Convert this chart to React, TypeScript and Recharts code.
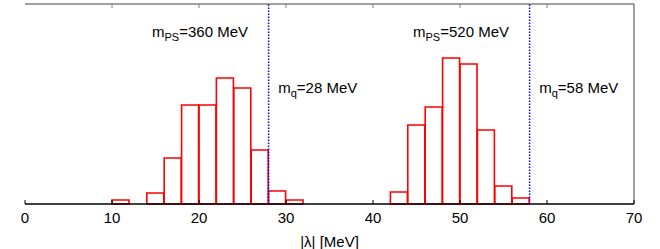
import React from 'react';
import {
    BarChart,
    Bar,
    XAxis,
    YAxis,
    ReferenceLine,
    ReferenceDot
} from 'recharts';

// histogram bins (bin centre in MeV, width 2) and their heights
const light360Centers = [11, 15, 17, 19, 21, 23, 25, 27, 29, 31];
const light360Heights = [4, 11, 46, 99, 99, 126, 116, 54, 13, 4];
const heavy520Centers = [43, 45, 47, 49, 51, 53, 55, 57];
const heavy520Heights = [12, 79, 97, 146, 140, 74, 18, 6];

const xTicks = [0, 10, 20, 30, 40, 50, 60, 70];
const cutoffs = [28, 58];
const X_MAX = 70;
const Y_MAX = 200;

const FONT = '"Liberation Sans", Arial, Helvetica, sans-serif';

const bins = [
    ...light360Centers.map((c, i) => ({ lambda: c, count: light360Heights[i] })),
    ...heavy520Centers.map((c, i) => ({ lambda: c, count: heavy520Heights[i] }))
];

type Note = { x: number; y: number; main: string; sub: string; rest: string };
const notes: Note[] = [
    { x: 14.6, y: 167, main: 'm', sub: 'PS', rest: '=360 MeV' },
    { x: 29.1, y: 111, main: 'm', sub: 'q', rest: '=28 MeV' },
    { x: 44.6, y: 167, main: 'm', sub: 'PS', rest: '=520 MeV' },
    { x: 59.1, y: 111, main: 'm', sub: 'q', rest: '=58 MeV' }
];

const BottomTick = (props: any) => {
    const { x, y, payload } = props;
    return (
        <g>
            <line x1={x} y1={y} x2={x} y2={y - 4} stroke="#000" strokeWidth={1} />
            <text x={x} y={y + 19} textAnchor="middle" fontSize={15} fontFamily={FONT} fill="#000">
                {payload.value}
            </text>
        </g>
    );
};

const noteShape = (note: Note) => (props: any) => (
    <text x={props.cx} y={props.cy} fontSize={15} fontFamily={FONT} fill="#000">
        {note.main}
        <tspan fontSize={11} dy={4}>{note.sub}</tspan>
        <tspan dy={-4}>{note.rest}</tspan>
    </text>
);

export default function App() {
    if (typeof document !== 'undefined') document.body.style.margin = '0';
    return (
        <div style={{ width: 660, height: 249, background: '#fff' }}>
            <BarChart
                width={660}
                height={249}
                data={bins}
                margin={{ top: 4, right: 26, left: 25, bottom: 0 }}
                barCategoryGap={0}
                barGap={0}
            >
                <XAxis
                    dataKey="lambda"
                    type="number"
                    domain={[0, X_MAX]}
                    ticks={xTicks}
                    height={45}
                    tickSize={0}
                    tickMargin={0}
                    tickLine={false}
                    axisLine={{ stroke: '#000', strokeWidth: 1.5 }}
                    tick={<BottomTick />}
                    label={{ value: '|λ| [MeV]', position: 'insideBottom', offset: 2, fontSize: 15, fontFamily: FONT, fill: '#000' }}
                />
                <YAxis
                    domain={[0, Y_MAX]}
                    width={0}
                    tick={false}
                    tickLine={false}
                    axisLine={{ stroke: '#000', strokeWidth: 1.5 }}
                />
                {/* grey top and right border, with mirrored ticks on top */}
                <ReferenceLine y={Y_MAX} stroke="#808080" strokeWidth={1.5} />
                <ReferenceLine x={X_MAX} stroke="#808080" strokeWidth={1.5} />
                {xTicks.slice(1, -1).map((t) => (
                    <ReferenceLine
                        key={'top' + t}
                        segment={[{ x: t, y: Y_MAX }, { x: t, y: Y_MAX - 4 }]}
                        stroke="#808080"
                        strokeWidth={1}
                    />
                ))}
                <Bar
                    dataKey="count"
                    fill="none"
                    stroke="#ff0000"
                    strokeWidth={1.6}
                    isAnimationActive={false}
                />
                {cutoffs.map((c) => (
                    <ReferenceLine
                        key={c}
                        x={c}
                        stroke="#0000ff"
                        strokeWidth={1.5}
                        strokeDasharray="1.5 1.5"
                    />
                ))}
                {notes.map((n, i) => (
                    <ReferenceDot key={i} x={n.x} y={n.y} r={0} shape={noteShape(n)} />
                ))}
            </BarChart>
        </div>
    );
}
